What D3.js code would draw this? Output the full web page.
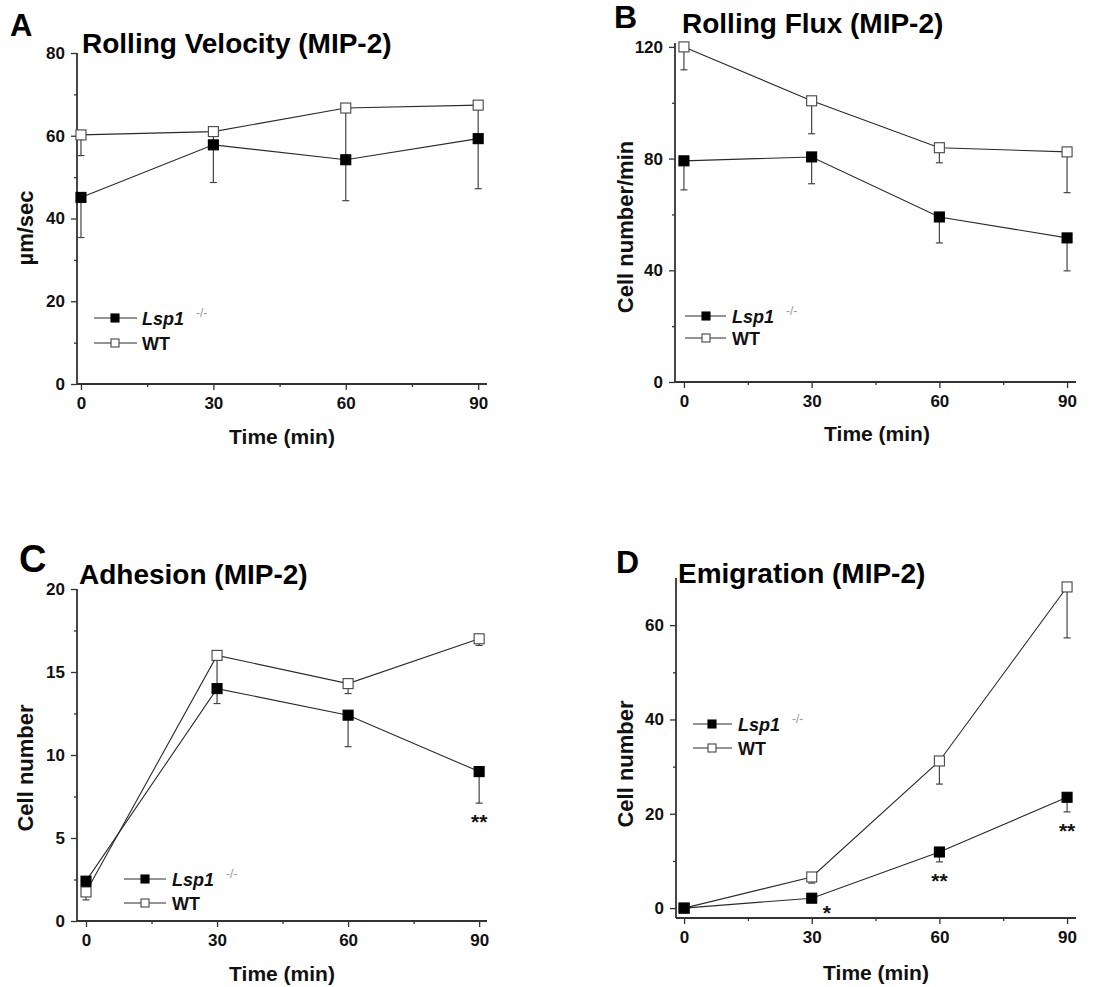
<!DOCTYPE html>
<html>
<head>
<meta charset="utf-8">
<script src="https://cdn.jsdelivr.net/npm/d3@7"></script>
<style>
  html, body { margin: 0; padding: 0; background: #fff; }
  svg { display: block; font-family: "Liberation Sans", Arial, sans-serif; }
</style>
</head>
<body>
<svg id="fig" width="1109" height="987"></svg>
<script>
// ---- data -------------------------------------------------------------
const times = [0, 30, 60, 90];
const xTickValues = [0, 30, 60, 90];
const xMinorValues = [15, 45, 75];
const seriesNames = ["Lsp1", "WT"];

// Rolling velocity (µm/sec)
const velocityKO = [45.1, 57.8, 54.2, 59.3];
const velocityKOErr = [9.7, 9.1, 9.9, 12.1];
const velocityWT = [60.2, 61.0, 66.7, 67.4];
const velocityWTErr = [5.0, 3.0, 12.0, 8.0];
const velocityTicks = [0, 20, 40, 60, 80];
const velocityMinor = [10, 30, 50, 70];

// Rolling flux (cells/min)
const fluxKO = [79.2, 80.6, 59.1, 51.6];
const fluxKOErr = [10.4, 9.6, 9.3, 11.8];
const fluxWT = [120.0, 100.7, 83.9, 82.4];
const fluxWTErr = [8.2, 11.8, 5.4, 14.6];
const fluxTicks = [0, 40, 80, 120];
const fluxMinor = [20, 60, 100];

// Adhesion (cell number)
const adhesionKO = [2.4, 14.0, 12.4, 9.0];
const adhesionKOErr = [0.3, 0.9, 1.9, 1.9];
const adhesionWT = [1.75, 16.0, 14.3, 17.0];
const adhesionWTErr = [0.48, 2.0, 0.6, 0.4];
const adhesionTicks = [0, 5, 10, 15, 20];
const adhesionMinor = [2.5, 7.5, 12.5, 17.5];
const adhesionSig = ["", "", "", "**"];

// Emigration (cell number)
const emigrationKO = [0, 2.1, 11.9, 23.5];
const emigrationKOErr = [0, 0.3, 2.1, 3.1];
const emigrationWT = [0, 6.6, 31.2, 68.1];
const emigrationWTErr = [0, 1.3, 4.9, 10.8];
const emigrationTicks = [0, 20, 40, 60];
const emigrationMinor = [10, 30, 50];
const emigrationSig = ["", "*", "**", "**"];

// ---- layout -----------------------------------------------------------
const panels = [
  {
    letter: "A", title: "Rolling Velocity (MIP-2)", yTitle: "µm/sec",
    ko: velocityKO, koErr: velocityKOErr, wt: velocityWT, wtErr: velocityWTErr,
    yTicks: velocityTicks, yMinor: velocityMinor, sig: null,
    xDomain: [-0.9, 92], yDomain: [0, 80],
    left: 77, right: 487, top: 53, bottom: 384,
    letterPos: [10, 36, 31], titlePos: [82, 53],
    yTitlePos: [33, 228], xTitlePos: [282, 444],
    legend: { x0: 94, x1: 137, mx: 115, tx: 142, y: 318, dy: 25 }
  },
  {
    letter: "B", title: "Rolling Flux (MIP-2)", yTitle: "Cell number/min",
    ko: fluxKO, koErr: fluxKOErr, wt: fluxWT, wtErr: fluxWTErr,
    yTicks: fluxTicks, yMinor: fluxMinor, sig: null,
    xDomain: [-2.1, 92.1], yDomain: [0, 121.4],
    left: 675, right: 1076, top: 43, bottom: 382,
    letterPos: [614, 28, 32], titlePos: [682, 33],
    yTitlePos: [633, 227], xTitlePos: [877, 441],
    legend: { x0: 685, x1: 726, mx: 706, tx: 732, y: 316, dy: 22 }
  },
  {
    letter: "C", title: "Adhesion (MIP-2)", yTitle: "Cell number",
    ko: adhesionKO, koErr: adhesionKOErr, wt: adhesionWT, wtErr: adhesionWTErr,
    yTicks: adhesionTicks, yMinor: adhesionMinor, sig: adhesionSig,
    xDomain: [-2.06, 91.8], yDomain: [0, 20],
    left: 77, right: 487, top: 589, bottom: 921,
    letterPos: [19, 572, 38], titlePos: [79, 584],
    yTitlePos: [33, 768], xTitlePos: [282, 981],
    legend: { x0: 124, x1: 166, mx: 145, tx: 172, y: 879, dy: 24 }
  },
  {
    letter: "D", title: "Emigration (MIP-2)", yTitle: "Cell number",
    ko: emigrationKO, koErr: emigrationKOErr, wt: emigrationWT, wtErr: emigrationWTErr,
    yTicks: emigrationTicks, yMinor: emigrationMinor, sig: emigrationSig,
    xDomain: [-1.9, 92.1], yDomain: [-2.1, 70],
    left: 676, right: 1076, top: 578, bottom: 918,
    letterPos: [616, 573, 32], titlePos: [678, 583],
    yTitlePos: [633, 764], xTitlePos: [876, 980],
    legend: { x0: 693, x1: 732, mx: 712, tx: 738, y: 724, dy: 24 }
  }
];

const INK = "#111";
const AXIS = "#333";
const LINE = "#2a2a2a";
const ERR = "#444";
const MARK = 10;      // data marker size
const LEG_MARK = 8;   // legend marker size
const CAP = 7;        // error-bar cap width

const svg = d3.select("#fig");

function drawPanel(p) {
  const g = svg.append("g");
  const x = d3.scaleLinear().domain(p.xDomain).range([p.left, p.right]);
  const y = d3.scaleLinear().domain(p.yDomain).range([p.bottom, p.top]);

  // axes
  const xAxis = d3.axisBottom(x).tickValues(xTickValues).tickSize(6).tickPadding(5);
  const xMinorAxis = d3.axisBottom(x).tickValues(xMinorValues).tickSize(3).tickFormat("");
  const yAxis = d3.axisLeft(y).tickValues(p.yTicks).tickSize(6).tickPadding(6);
  const yMinorAxis = d3.axisLeft(y).tickValues(p.yMinor).tickSize(3).tickFormat("");

  const styleAxis = sel => {
    sel.attr("font-size", 17).attr("font-family", "Liberation Sans, Arial, sans-serif");
    sel.select(".domain").attr("stroke", AXIS).attr("stroke-width", 1.8);
    sel.selectAll(".tick line").attr("stroke", AXIS).attr("stroke-width", 1.3);
    sel.selectAll(".tick text")
      .attr("fill", INK).attr("font-size", 17).attr("font-weight", "bold");
  };

  g.append("g").attr("transform", `translate(0,${p.bottom})`).call(xMinorAxis).call(styleAxis)
    .select(".domain").remove();
  g.append("g").attr("transform", `translate(${p.left},0)`).call(yMinorAxis).call(styleAxis)
    .select(".domain").remove();
  const gx = g.append("g").attr("transform", `translate(0,${p.bottom})`).call(xAxis).call(styleAxis);
  gx.select(".domain").attr("d", `M${p.left},0H${p.right}`);
  gx.selectAll(".tick text").attr("dy", "0.71em").attr("y", 13);
  const gy = g.append("g").attr("transform", `translate(${p.left},0)`).call(yAxis).call(styleAxis);
  gy.select(".domain").attr("d", `M0,${p.top}V${p.bottom}`);

  const series = [
    { key: "ko", v: p.ko, e: p.koErr, fill: "#000", stroke: "#000" },
    { key: "wt", v: p.wt, e: p.wtErr, fill: "#fff", stroke: "#444" }
  ];

  // error bars (downward)
  series.forEach(s => {
    const eg = g.append("g");
    times.forEach((t, i) => {
      if (!s.e[i]) return;
      const x0 = x(t), y0 = y(s.v[i]), y1 = y(s.v[i] - s.e[i]);
      eg.append("line").attr("x1", x0).attr("x2", x0).attr("y1", y0).attr("y2", y1)
        .attr("stroke", ERR).attr("stroke-width", 1.2);
      eg.append("line").attr("x1", x0 - CAP / 2).attr("x2", x0 + CAP / 2).attr("y1", y1).attr("y2", y1)
        .attr("stroke", ERR).attr("stroke-width", 1.2);
    });
  });

  // connecting lines
  const line = d3.line().x((d, i) => x(times[i])).y(d => y(d));
  series.forEach(s => {
    g.append("path").datum(s.v).attr("d", line)
      .attr("fill", "none").attr("stroke", LINE).attr("stroke-width", 1.1);
  });

  // markers: WT first, knockout on top
  [series[1], series[0]].forEach(s => {
    g.append("g").selectAll("rect").data(s.v).join("rect")
      .attr("x", (d, i) => x(times[i]) - MARK / 2)
      .attr("y", d => y(d) - MARK / 2)
      .attr("width", MARK).attr("height", MARK)
      .attr("fill", s.fill).attr("stroke", s.stroke).attr("stroke-width", 1.1);
  });

  // significance marks under knockout error bars
  if (p.sig) {
    p.sig.forEach((s, i) => {
      if (!s) return;
      const low = y(p.ko[i] - p.koErr[i]);
      const small = p.koErr[i] < 1;
      const cx = small ? x(times[i]) + 15 : x(times[i]);
      const cy = small ? low + 8 : low + 14;
      g.append("text").attr("x", cx).attr("y", cy + 12)
        .attr("text-anchor", "middle").attr("font-size", 21).attr("font-weight", "bold")
        .attr("fill", INK).text(s);
    });
  }

  // panel letter and title
  g.append("text").attr("x", p.letterPos[0]).attr("y", p.letterPos[1])
    .attr("font-size", p.letterPos[2]).attr("font-weight", "bold").attr("fill", "#000").text(p.letter);
  g.append("text").attr("x", p.titlePos[0]).attr("y", p.titlePos[1])
    .attr("font-size", 28).attr("font-weight", "bold").attr("fill", "#000").text(p.title);

  // axis titles
  g.append("text").attr("transform", `translate(${p.yTitlePos[0]},${p.yTitlePos[1]}) rotate(-90)`)
    .attr("text-anchor", "middle").attr("font-size", 22).attr("font-weight", "bold")
    .attr("fill", INK).text(p.yTitle);
  g.append("text").attr("x", p.xTitlePos[0]).attr("y", p.xTitlePos[1])
    .attr("text-anchor", "middle").attr("font-size", 21).attr("font-weight", "bold")
    .attr("fill", INK).text("Time (min)");

  // legend
  const L = p.legend;
  series.forEach((s, k) => {
    const ly = L.y + k * L.dy;
    g.append("line").attr("x1", L.x0).attr("x2", L.x1).attr("y1", ly).attr("y2", ly)
      .attr("stroke", LINE).attr("stroke-width", 1.1);
    g.append("rect").attr("x", L.mx - LEG_MARK / 2).attr("y", ly - LEG_MARK / 2)
      .attr("width", LEG_MARK).attr("height", LEG_MARK)
      .attr("fill", s.fill).attr("stroke", s.stroke).attr("stroke-width", 1.1);
    const t = g.append("text").attr("x", L.tx).attr("y", ly + 6.5)
      .attr("font-size", 18).attr("font-weight", "bold").attr("fill", INK);
    if (k === 0) {
      t.append("tspan").attr("font-style", "italic").text(seriesNames[0]);
      t.append("tspan").attr("dx", 12).attr("dy", -8).attr("font-size", 12)
        .attr("font-weight", "normal").attr("fill", "#999").text("-/-");
    } else {
      t.text(seriesNames[1]);
    }
  });
}

panels.forEach(drawPanel);
</script>
</body>
</html>
